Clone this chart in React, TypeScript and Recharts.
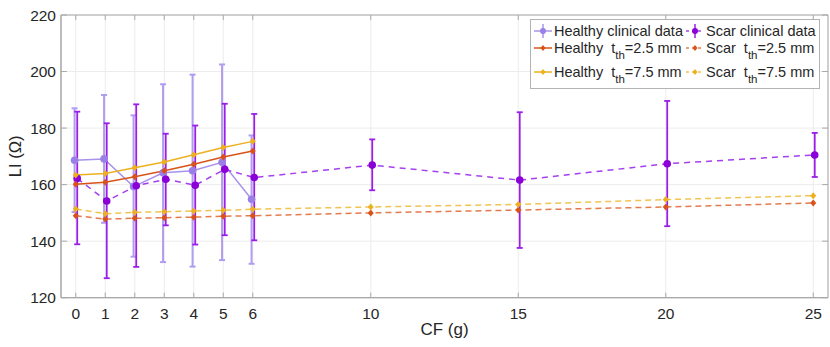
import React from "react";
import {
  ComposedChart,
  Line,
  ErrorBar,
  XAxis,
  YAxis,
  CartesianGrid,
  ReferenceArea,
  ReferenceLine,
} from "recharts";

// CF values (g)
const CF_HEALTHY = [0, 1, 2, 3, 4, 5, 6];
const CF_SCAR = [0, 1, 2, 3, 4, 5, 6, 10, 15, 20, 25];
const X_TICKS = [0, 1, 2, 3, 4, 5, 6, 10, 15, 20, 25];
const Y_TICKS = [120, 140, 160, 180, 200, 220];

// clinical data: mean, upper and lower ends of the error bars
const healthyClinical = [168.6, 169.1, 159.3, 164.2, 164.9, 167.9, 154.8];
const healthyClinicalHi = [187, 191.7, 184.5, 195.5, 198.9, 202.5, 177.4];
const healthyClinicalLo = [150.3, 146.5, 134.5, 132.6, 131, 133.3, 132];

const scarClinical = [162.2, 154.2, 159.6, 161.9, 159.8, 165.4, 162.5, 166.9, 161.6, 167.4, 170.5];
const scarClinicalHi = [185.8, 181.7, 188.4, 178, 180.9, 188.6, 185, 176, 185.6, 189.6, 178.3];
const scarClinicalLo = [138.9, 126.9, 130.9, 145.6, 138.8, 142.1, 140.3, 158, 137.6, 145.3, 162.7];

// model results
const healthy25 = [160.1, 160.8, 162.8, 164.9, 167.2, 169.8, 171.9];
const healthy75 = [163.4, 163.9, 166, 168, 170.6, 173.1, 175.3];
const scar25 = [149, 147.8, 148.1, 148.3, 148.5, 148.8, 149, 150, 151, 152.1, 153.5];
const scar75 = [151.4, 149.7, 150.2, 150.4, 150.7, 150.9, 151.3, 152.1, 153, 154.7, 156.1];

const LAVENDER = "#a892ea";
const LAVENDER_DOT = "#9a80e6";
const VIOLET = "#a63ff0";
const VIOLET_DOT = "#8a00d6";
const VIOLET_BAR = "#9a1ee8";
const ORANGE = "#d95319";
const YELLOW = "#edb120";
const ORANGE_DASH = "#e37b4e";
const YELLOW_DASH = "#f1c452";
const BOX = "#a8a8a8";
const GRID = "#ececec";
const TEXT = "#262626";
const FONT = "'Liberation Sans', Arial, Helvetica, sans-serif";

// clinical points are drawn slightly apart so the bars don't overlap
const HEALTHY_SHIFT = -0.04;
const SCAR_SHIFT = 0.05;

const healthyClinicalData = CF_HEALTHY.map((x, i) => ({
  x: x + HEALTHY_SHIFT,
  y: healthyClinical[i],
  err: [healthyClinical[i] - healthyClinicalLo[i], healthyClinicalHi[i] - healthyClinical[i]],
}));
const scarClinicalData = CF_SCAR.map((x, i) => ({
  x: x + SCAR_SHIFT,
  y: scarClinical[i],
  err: [scarClinical[i] - scarClinicalLo[i], scarClinicalHi[i] - scarClinical[i]],
}));
const toXY = (xs: number[], ys: number[]) => xs.map((x, i) => ({ x, y: ys[i] }));

const circleDot = (fill: string, r: number) => (p: any) =>
  p.cx == null ? <g key={p.index} /> : <circle key={p.index} cx={p.cx} cy={p.cy} r={r} fill={fill} stroke="none" />;

const diamondDot = (fill: string) => (p: any) =>
  p.cx == null ? (
    <g key={p.index} />
  ) : (
    <path
      key={p.index}
      d={`M${p.cx},${p.cy - 3.5}L${p.cx + 3},${p.cy}L${p.cx},${p.cy + 3.5}L${p.cx - 3},${p.cy}Z`}
      fill={fill}
      stroke="none"
    />
  );

const XTick = (p: any) => (
  <text x={p.x} y={p.y + 21} textAnchor="middle" fontSize={15.5} fontFamily={FONT} fill={TEXT}>
    {p.payload.value}
  </text>
);

const YTick = (p: any) => (
  <text x={p.x - 5} y={p.y + 5.5} textAnchor="end" fontSize={15.5} fontFamily={FONT} fill={TEXT}>
    {p.payload.value}
  </text>
);

const XLabel = (p: any) => {
  const vb = p.viewBox;
  return (
    <text x={vb.x + vb.width / 2} y={vb.y + 37} textAnchor="middle" fontSize={17} fontFamily={FONT} fill={TEXT}>
      CF (g)
    </text>
  );
};

const YLabel = (p: any) => {
  const vb = p.viewBox;
  const cx = vb.x + 21;
  const cy = vb.y + vb.height / 2;
  return (
    <text
      x={cx}
      y={cy}
      transform={`rotate(-90 ${cx} ${cy})`}
      textAnchor="middle"
      fontSize={16.5}
      fontFamily={FONT}
      fill={TEXT}
    >
      LI (Ω)
    </text>
  );
};

type Entry = { label: string; sub?: string; tail?: string; color: string; dot: string; dashed?: boolean; bar?: boolean };

const LEGEND_COLS: Entry[][] = [
  [
    { label: "Healthy clinical data", color: LAVENDER, dot: LAVENDER_DOT, bar: true },
    { label: "Healthy  t", sub: "th", tail: "=2.5 mm", color: ORANGE, dot: ORANGE },
    { label: "Healthy  t", sub: "th", tail: "=7.5 mm", color: YELLOW, dot: YELLOW },
  ],
  [
    { label: "Scar clinical data", color: VIOLET, dot: VIOLET_DOT, dashed: true, bar: true },
    { label: "Scar  t", sub: "th", tail: "=2.5 mm", color: ORANGE_DASH, dot: ORANGE, dashed: true },
    { label: "Scar  t", sub: "th", tail: "=7.5 mm", color: YELLOW_DASH, dot: YELLOW, dashed: true },
  ],
];
const ROW_TOPS = [1.5, 18.5, 42.5];

function LegendIcon({ e }: { e: Entry }) {
  return (
    <svg width={20} height={18} style={{ position: "absolute", left: 0, top: 0 }}>
      <line x1={1} x2={19} y1={9} y2={9} stroke={e.color} strokeWidth={1.5} strokeDasharray={e.dashed ? "3 3" : undefined} />
      {e.bar && <line x1={10} x2={10} y1={2} y2={16} stroke={e.dashed ? VIOLET_BAR : LAVENDER} strokeWidth={1.5} />}
      {e.bar ? (
        <circle cx={10} cy={9} r={3} fill={e.dot} />
      ) : (
        <path d="M10,6L12.5,9L10,12L7.5,9Z" fill={e.dot} />
      )}
    </svg>
  );
}

function ChartLegend() {
  return (
    <div
      style={{
        position: "absolute",
        left: 530,
        top: 19,
        width: 288,
        height: 68,
        border: "1px solid #b3b3b3",
        background: "#fff",
        fontFamily: FONT,
        fontSize: 14.5,
        color: TEXT,
      }}
    >
      {LEGEND_COLS.map((col, ci) =>
        col.map((e, ri) => (
          <div
            key={`${ci}-${ri}`}
            style={{ position: "absolute", left: ci === 0 ? 2 : 154, top: ROW_TOPS[ri], height: 18, whiteSpace: "pre" }}
          >
            <LegendIcon e={e} />
            <span style={{ position: "absolute", left: 21, top: 0, lineHeight: "18px" }}>
              {e.label}
              {e.sub && <span style={{ fontSize: 11.5, position: "relative", top: 6 }}>{e.sub}</span>}
              {e.tail}
            </span>
          </div>
        ))
      )}
    </div>
  );
}

export default function App() {
  return (
    <div style={{ position: "absolute", left: 0, top: 0, width: 830, height: 347, background: "#fff" }}>
      <ComposedChart width={830} height={347} margin={{ top: 15, right: 2, bottom: 0, left: 0 }}>
        <CartesianGrid stroke={GRID} strokeWidth={1} />
        <XAxis
          dataKey="x"
          type="number"
          domain={[-0.5, 25.5]}
          ticks={X_TICKS}
          allowDataOverflow
          height={49.3}
          tickSize={0}
          tickMargin={0}
          tickLine={false}
          axisLine={{ stroke: BOX }}
          tick={XTick}
          label={XLabel}
        />
        <YAxis
          type="number"
          domain={[120, 220]}
          ticks={Y_TICKS}
          allowDataOverflow
          width={61}
          tickSize={0}
          tickMargin={0}
          tickLine={false}
          axisLine={{ stroke: BOX }}
          tick={YTick}
          label={YLabel}
        />
        <ReferenceArea x1={-0.5} x2={25.5} y1={120} y2={220} fill="none" stroke={BOX} strokeWidth={1} />
        {X_TICKS.map((t) => (
          <ReferenceLine key={`xb${t}`} segment={[{ x: t, y: 120 }, { x: t, y: 121.8 }]} stroke={BOX} />
        ))}
        {X_TICKS.map((t) => (
          <ReferenceLine key={`xt${t}`} segment={[{ x: t, y: 220 }, { x: t, y: 218.2 }]} stroke={BOX} />
        ))}
        {Y_TICKS.map((t) => (
          <ReferenceLine key={`yl${t}`} segment={[{ x: -0.5, y: t }, { x: -0.3, y: t }]} stroke={BOX} />
        ))}
        {Y_TICKS.map((t) => (
          <ReferenceLine key={`yr${t}`} segment={[{ x: 25.5, y: t }, { x: 25.3, y: t }]} stroke={BOX} />
        ))}

        <Line
          data={healthyClinicalData}
          dataKey="y"
          stroke={LAVENDER}
          strokeWidth={1.5}
          dot={circleDot(LAVENDER_DOT, 3.8)}
          isAnimationActive={false}
        >
          <ErrorBar dataKey="err" direction="y" width={3} stroke="#b09df0" strokeWidth={2} />
        </Line>
        <Line
          data={scarClinicalData}
          dataKey="y"
          stroke={VIOLET}
          strokeWidth={1.5}
          strokeDasharray="6 5"
          dot={circleDot(VIOLET_DOT, 3.8)}
          isAnimationActive={false}
        >
          <ErrorBar dataKey="err" direction="y" width={3} stroke={VIOLET_BAR} strokeWidth={1.8} />
        </Line>
        <Line
          data={toXY(CF_SCAR, scar25)}
          dataKey="y"
          stroke={ORANGE_DASH}
          strokeWidth={1.5}
          strokeDasharray="6 4"
          dot={diamondDot(ORANGE)}
          isAnimationActive={false}
        />
        <Line
          data={toXY(CF_SCAR, scar75)}
          dataKey="y"
          stroke={YELLOW_DASH}
          strokeWidth={1.5}
          strokeDasharray="6 4"
          dot={diamondDot(YELLOW)}
          isAnimationActive={false}
        />
        <Line
          data={toXY(CF_HEALTHY, healthy25)}
          dataKey="y"
          stroke={ORANGE}
          strokeWidth={1.5}
          dot={diamondDot(ORANGE)}
          isAnimationActive={false}
        />
        <Line
          data={toXY(CF_HEALTHY, healthy75)}
          dataKey="y"
          stroke={YELLOW}
          strokeWidth={1.5}
          dot={diamondDot(YELLOW)}
          isAnimationActive={false}
        />
      </ComposedChart>
      <ChartLegend />
    </div>
  );
}
